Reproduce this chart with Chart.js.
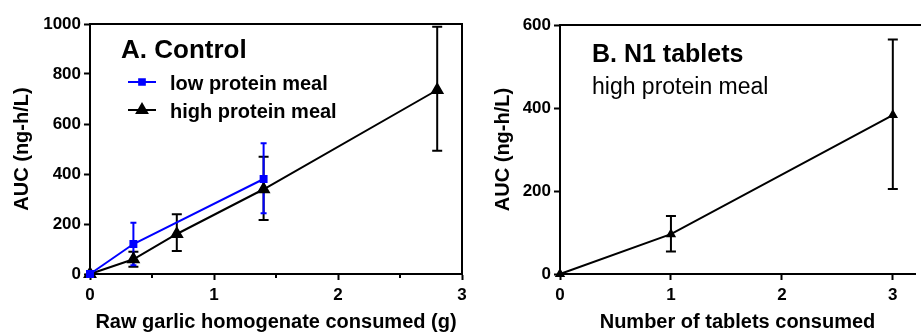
<!DOCTYPE html>
<html>
<head>
<meta charset="utf-8">
<script src="https://cdn.jsdelivr.net/npm/chart.js@4"></script>
<style>
  html, body { margin: 0; padding: 0; background: #fff; }
  #wrap { position: relative; width: 921px; height: 334px; overflow: hidden; }
  #chartA { position: absolute; left: 0; top: 0; width: 480px; height: 334px; }
  #chartB { position: absolute; left: 462px; top: 0; width: 459px; height: 334px; }
</style>
</head>
<body>
<div id="wrap">
  <canvas id="chartA" width="480" height="334"></canvas>
  <canvas id="chartB" width="459" height="334"></canvas>
</div>
<script>
const FONT = "'Liberation Sans', Arial, sans-serif";
const BLUE = '#0000ff';

// Panel A - raw garlic homogenate (g) vs AUC
const lowX = [0, 0.35, 1.4];
const lowAUC = [0, 120, 380];
const lowHi = [0, 205, 523];
const lowLo = [0, 35, 243];

const highX = [0, 0.35, 0.7, 1.4, 2.8];
const highAUC = [0, 59, 160, 339, 736];
const highHi = [0, 89, 239, 469, 989];
const highLo = [0, 29, 92, 216, 493];

// Panel B - N1 tablets, high protein meal
const tabX = [0, 1, 3];
const tabAUC = [0, 96, 383];
const tabHi = [0, 140, 565];
const tabLo = [0, 54, 205];

// tick labels
const xTicksA = [0, 1, 2, 3];
const xMinorA = [0.5, 1.5, 2.5];
const yTicksA = [0, 200, 400, 600, 800, 1000];
const xTicksB = [0, 1, 2, 3];
const yTicksB = [0, 200, 400, 600];

function pts(xs, ys) {
  return xs.map((x, i) => ({ x: x, y: ys[i] }));
}

// vertical error bars with caps, drawn under the markers
const errorBars = {
  id: 'errorBars',
  beforeDatasetsDraw(chart) {
    const { ctx, scales: { x, y } } = chart;
    ctx.save();
    for (let i = chart.data.datasets.length - 1; i >= 0; i--) {
      const ds = chart.data.datasets[i];
      if (!ds.errHi) continue;
      ctx.strokeStyle = ds.borderColor;
      ctx.lineWidth = 2;
      ds.data.forEach((p, j) => {
        if (ds.errHi[j] === ds.errLo[j]) return;
        const px = x.getPixelForValue(p.x);
        const top = y.getPixelForValue(ds.errHi[j]);
        const bot = y.getPixelForValue(ds.errLo[j]);
        const c = ds.errCap;
        ctx.beginPath();
        ctx.moveTo(px, top); ctx.lineTo(px, bot);
        ctx.moveTo(px - c, top); ctx.lineTo(px + c, top);
        ctx.moveTo(px - c, bot); ctx.lineTo(px + c, bot);
        ctx.stroke();
      });
    }
    ctx.restore();
  }
};

// top (and right) frame lines, minor ticks, panel titles / legend
const panelDecor = {
  id: 'panelDecor',
  afterDraw(chart, args, opts) {
    const { ctx, chartArea: a } = chart;
    const xs = chart.scales.x;
    ctx.save();
    ctx.strokeStyle = '#000';
    ctx.lineWidth = 2;
    ctx.beginPath();
    ctx.moveTo(a.left - 1, a.top);
    if (opts.rightFrame) {
      ctx.lineTo(a.right, a.top);
      ctx.lineTo(a.right, a.bottom);
    } else {
      ctx.lineTo(chart.width, a.top);
    }
    (opts.minorX || []).forEach(v => {
      const px = xs.getPixelForValue(v);
      ctx.moveTo(px, a.bottom);
      ctx.lineTo(px, a.bottom + 4);
    });
    ctx.stroke();

    ctx.fillStyle = '#000';
    ctx.textBaseline = 'alphabetic';
    (opts.texts || []).forEach(t => {
      ctx.font = t.font;
      ctx.fillText(t.text, t.x, t.y);
    });

    (opts.legend || []).forEach(l => {
      ctx.strokeStyle = l.color;
      ctx.fillStyle = l.color;
      ctx.lineWidth = 2;
      ctx.beginPath();
      ctx.moveTo(l.x, l.y); ctx.lineTo(l.x + 28, l.y);
      ctx.stroke();
      Chart.helpers.drawPoint(ctx, {
        pointStyle: l.style, radius: l.radius, borderWidth: 1, rotation: 0
      }, l.x + 14, l.y);
      ctx.fillStyle = '#000';
      ctx.font = 'bold 20px ' + FONT;
      ctx.fillText(l.text, l.x + 42, l.y + 8);
    });
    ctx.restore();
  }
};

function axisCommon(ticks) {
  return {
    type: 'linear',
    afterBuildTicks: s => { s.ticks = ticks.map(v => ({ value: v })); },
    grid: {
      display: true, drawOnChartArea: false, drawTicks: true,
      tickLength: 6, tickWidth: 2, tickColor: '#000'
    },
    border: { display: true, width: 2, color: '#000' },
    ticks: {
      color: '#000',
      font: { family: FONT, size: 17, weight: 'bold' },
      autoSkip: false, maxRotation: 0,
      callback: v => String(v)
    }
  };
}

function makeChart(id, cfg) {
  const xAxis = axisCommon(cfg.xTicks);
  xAxis.min = 0; xAxis.max = cfg.xMax;
  xAxis.ticks.padding = 5;
  xAxis.afterFit = s => { s.height = 60; };
  xAxis.title = {
    display: true, text: cfg.xTitle, color: '#000',
    font: { family: FONT, size: 20, weight: 'bold' },
    padding: { top: 0, bottom: 0 }
  };

  const yAxis = axisCommon(cfg.yTicks);
  yAxis.min = 0; yAxis.max = cfg.yMax;
  yAxis.ticks.padding = 3;
  yAxis.afterFit = s => { s.width = cfg.yWidth; };
  yAxis.title = {
    display: true, text: 'AUC (ng-h/L)', color: '#000',
    font: { family: FONT, size: 20, weight: 'bold' },
    padding: { top: cfg.yTitlePad, bottom: 0 }
  };

  return new Chart(document.getElementById(id), {
    type: 'line',
    data: { datasets: cfg.datasets },
    options: {
      responsive: false,
      animation: false,
      layout: { padding: { left: 0, right: cfg.padRight, top: cfg.padTop, bottom: 0 } },
      scales: { x: xAxis, y: yAxis },
      plugins: {
        legend: { display: false },
        tooltip: { enabled: false },
        panelDecor: cfg.decor
      }
    },
    plugins: [errorBars, panelDecor]
  });
}

makeChart('chartA', {
  xMax: 3, yMax: 1000,
  xTicks: xTicksA,
  yTicks: yTicksA,
  xTitle: 'Raw garlic homogenate consumed (g)',
  yWidth: 90, yTitlePad: 10, padRight: 18, padTop: 24,
  datasets: [
    {
      label: 'low protein meal',
      data: pts(lowX, lowAUC),
      errHi: lowHi, errLo: lowLo, errCap: 3,
      borderColor: BLUE, backgroundColor: BLUE,
      borderWidth: 2, pointStyle: 'rect', pointRadius: 4.2,
      tension: 0, clip: false
    },
    {
      label: 'high protein meal',
      data: pts(highX, highAUC),
      errHi: highHi, errLo: highLo, errCap: 5,
      borderColor: '#000', backgroundColor: '#000',
      borderWidth: 2, pointStyle: 'triangle', pointRadius: 6,
      tension: 0, clip: false
    }
  ],
  decor: {
    rightFrame: true,
    minorX: xMinorA,
    texts: [{ text: 'A. Control', x: 121, y: 58, font: 'bold 26px ' + FONT }],
    legend: [
      { text: 'low protein meal', x: 128, y: 82, color: BLUE, style: 'rect', radius: 4 },
      { text: 'high protein meal', x: 128, y: 110, color: '#000', style: 'triangle', radius: 6 }
    ]
  }
});

makeChart('chartB', {
  xMax: 3.2, yMax: 600,
  xTicks: xTicksB,
  yTicks: yTicksB,
  xTitle: 'Number of tablets consumed',
  yWidth: 98, yTitlePad: 29, padRight: 0, padTop: 25,
  datasets: [
    {
      label: 'high protein meal',
      data: pts(tabX, tabAUC),
      errHi: tabHi, errLo: tabLo, errCap: 5,
      borderColor: '#000', backgroundColor: '#000',
      borderWidth: 2, pointStyle: 'triangle', pointRadius: 4,
      tension: 0, clip: false
    }
  ],
  decor: {
    rightFrame: false,
    texts: [
      { text: 'B. N1 tablets', x: 130, y: 62, font: 'bold 25px ' + FONT },
      { text: 'high protein meal', x: 130, y: 94, font: '23px ' + FONT }
    ]
  }
});
</script>
</body>
</html>
